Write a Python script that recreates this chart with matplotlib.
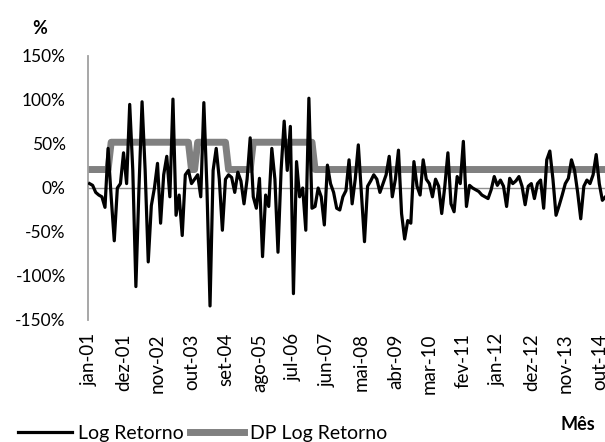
import matplotlib
matplotlib.use("Agg")
import matplotlib.pyplot as plt
from matplotlib.lines import Line2D

plt.rcParams['font.family'] = ['Lato', 'DejaVu Sans']

# meses jan-01 .. dez-14
meses_pt = ['jan', 'fev', 'mar', 'abr', 'mai', 'jun',
            'jul', 'ago', 'set', 'out', 'nov', 'dez']
months = ['%s-%02d' % (meses_pt[i % 12], 1 + i // 12) for i in range(168)]

# log retorno mensal (%)
log_ret = [
    5, 3, -5, -8, -10, -22, 45, -10, -60, 0,
    5, 40, 5, 95, 20, -112, 0, 98, 20, -84,
    -20, 0, 28, -40, 15, 36, -10, 101, -31, -8,
    -54, 15, 20, 5, 10, 15, -10, 97, 0, -134,
    20, 45, 10, -48, 10, 15, 12, -5, 18, 8,
    -18, 10, 57, -10, -23, 11, -78, -8, -21, 45,
    10, -73, 20, 76, 20, 70, -120, 30, -10, 0,
    -48, 102, -23, -21, 0, -10, -42, 26, 5, -5,
    -23, -25, -10, -3, 32, -18, 10, 49, -6, -61,
    2, 8, 15, 10, -5, 5, 15, 36, -10, 10,
    43, -29, -58, -37, -40, 30, 2, -8, 32, 10,
    5, -10, 10, 2, -29, 2, 40, -18, -27, 13,
    5, 53, -21, 3, 0, -2, -4, -8, -10, -12,
    -2, 13, 3, 9, 2, -21, 11, 5, 8, 13,
    2, -19, 2, 5, -12, 5, 9, -23, 32, 42,
    10, -31, -20, -8, 5, 11, 32, 20, -5, -35,
    2, 9, 5, 15, 38, 5, -14, -10,
]

# desvio padrao do log retorno (%): baixo / alto
dp_low, dp_high = 21, 52
high_spans = [(7, 32), (35, 44), (53, 72)]
dp_ret = []
for i in range(len(log_ret)):
    v = dp_low
    for a, b in high_spans:
        if a <= i <= b:
            v = dp_high
    dp_ret.append(v)

yticks = [-150, -100, -50, 0, 50, 100, 150]

fig = plt.figure(figsize=(6.05, 4.42), dpi=100)
ax = fig.add_axes([88 / 605, 1 - 320 / 442, 519 / 605, 264 / 442])

x = list(range(len(log_ret)))
ax.plot(x, log_ret, color='black', lw=2.3, zorder=3)
ax.plot(x, dp_ret, color='#808080', lw=5, zorder=2, solid_joinstyle='round')
ax.axhline(0, color='#909090', lw=1, zorder=1)

ax.set_xlim(-0.5, len(log_ret) - 0.5)
ax.set_ylim(-150, 150)
ax.set_yticks(yticks)
ax.set_yticklabels(['%d%%' % t for t in yticks], fontsize=12.5)
ax.set_xticks(x[::11])
ax.set_xticklabels(months[::11], rotation=90, fontsize=13.5)
ax.tick_params(axis='x', length=0, pad=9.5)
ax.tick_params(axis='y', length=0, pad=16)

for s in ['top', 'right', 'bottom']:
    ax.spines[s].set_visible(False)
ax.spines['left'].set_color('#a0a0a0')
ax.spines['left'].set_linewidth(1.3)

fig.text(40 / 605, 1 - 28 / 442, '%', fontsize=13, fontweight='bold',
         ha='center', va='center')
fig.text(578 / 605, 1 - 424 / 442, 'Mês', fontsize=13, fontweight='bold',
         ha='center', va='center')

handles = [Line2D([], [], color='black', lw=2.3),
           Line2D([], [], color='#808080', lw=5)]
fig.legend(handles, ['Log Retorno', 'DP Log Retorno'], ncol=2,
           loc='center left', bbox_to_anchor=(18 / 605, 1 - 433 / 442),
           frameon=False, fontsize=14, handlelength=2.8, handletextpad=0.3,
           columnspacing=0.3, borderaxespad=0, borderpad=0)

fig.savefig('out.png', dpi=100)
